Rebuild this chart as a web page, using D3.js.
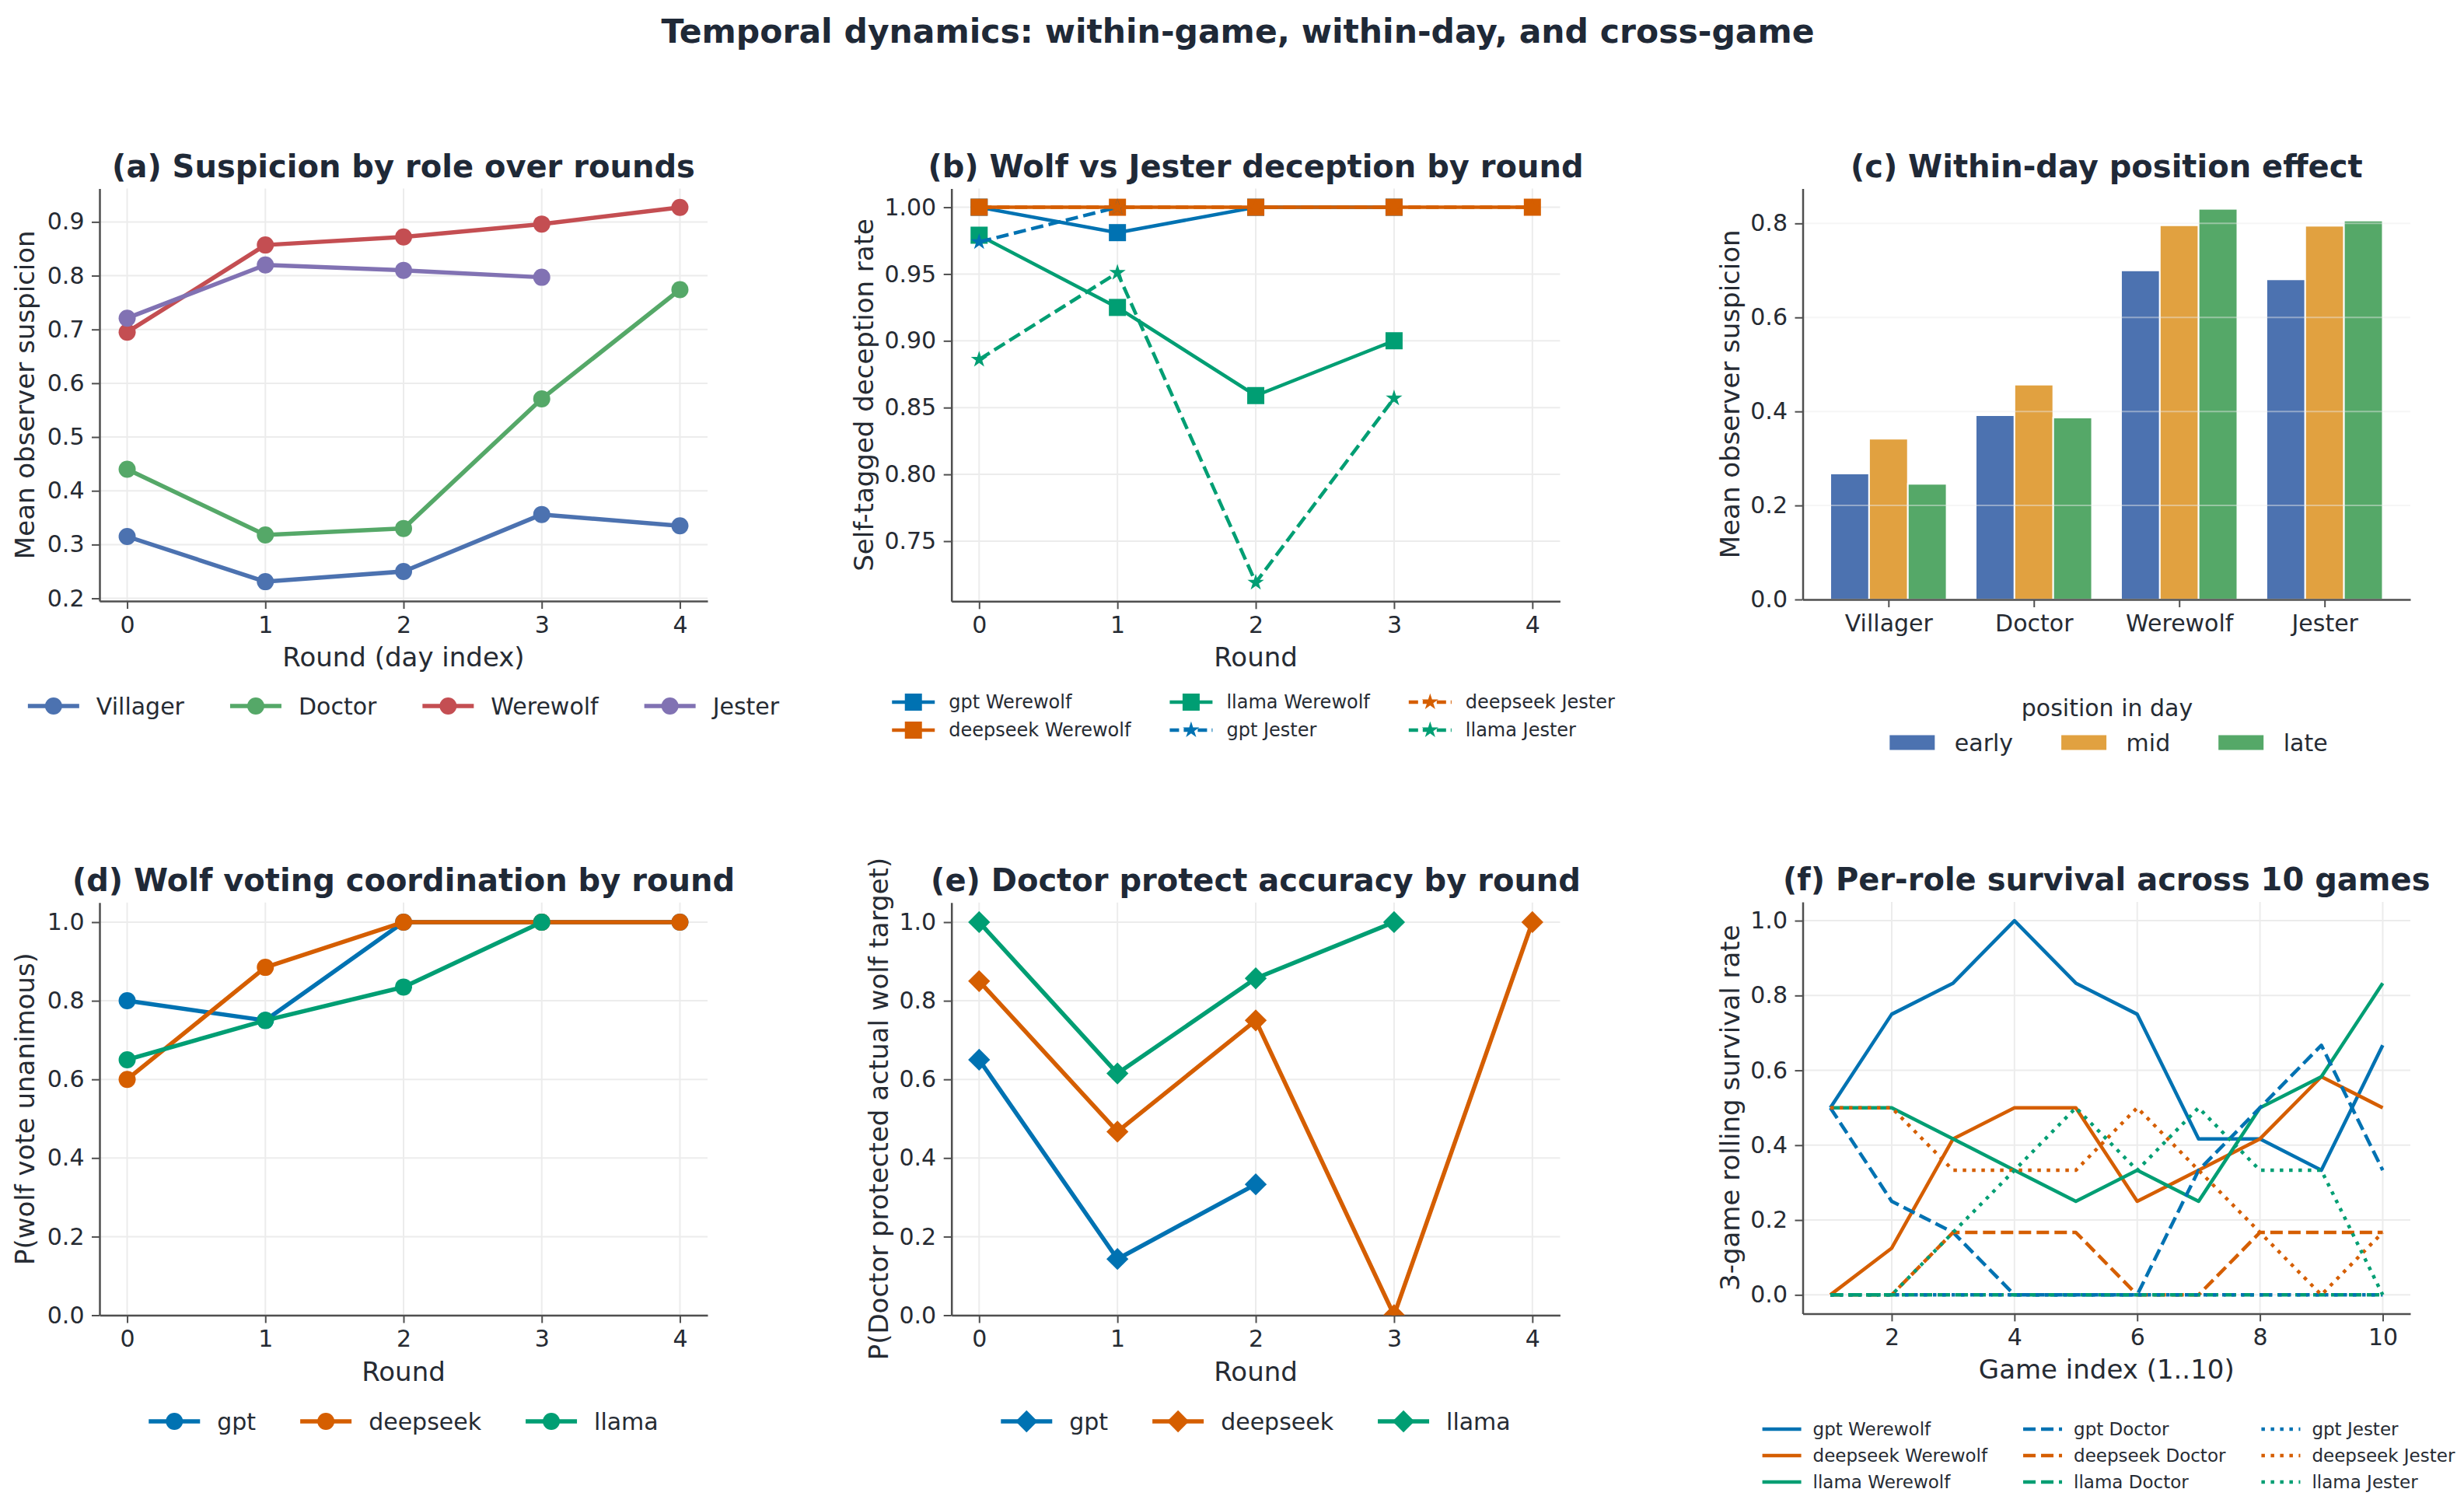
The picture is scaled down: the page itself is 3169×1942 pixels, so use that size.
<!DOCTYPE html>
<html>
<head>
<meta charset="utf-8">
<script src="https://cdn.jsdelivr.net/npm/d3@7"></script>
<style>
  body { margin: 0; background: #fff; }
  svg { display: block; }
</style>
</head>
<body>
<script>
/* Data */
const rounds = [0, 1, 2, 3, 4];
const roles = ["Villager", "Doctor", "Werewolf", "Jester"];
const models = ["gpt", "deepseek", "llama"];

// (a) mean observer suspicion by role and round
const suspVillager = [0.315, 0.231, 0.250, 0.356, 0.335];
const suspDoctor   = [0.440, 0.318, 0.330, 0.571, 0.774];
const suspWerewolf = [0.695, 0.857, 0.872, 0.896, 0.927];
const suspJester   = [0.721, 0.820, 0.810, 0.797, null];

// (b) self-tagged deception rate
const decGptWerewolf      = [1.000, 0.981, 1.000, 1.000, null];
const decDeepseekWerewolf = [1.000, 1.000, 1.000, 1.000, 1.000];
const decLlamaWerewolf    = [0.979, 0.925, 0.859, 0.900, null];
const decGptJester        = [0.974, 1.000, null, null, null];
const decDeepseekJester   = [1.000, 1.000, 1.000, 1.000, 1.000];
const decLlamaJester      = [0.886, 0.951, 0.719, 0.857, null];

// (c) within-day position effect
const positions = ["early", "mid", "late"];
const posEarly = [0.268, 0.392, 0.700, 0.681];
const posMid   = [0.342, 0.457, 0.796, 0.795];
const posLate  = [0.246, 0.387, 0.831, 0.806];

// (d) P(wolf vote unanimous)
const unanGpt      = [0.80, 0.75, 1.00, 1.00, 1.00];
const unanDeepseek = [0.60, 0.885, 1.00, 1.00, 1.00];
const unanLlama    = [0.65, 0.75, 0.835, 1.00, null];

// (e) P(doctor protected actual wolf target)
const protGpt      = [0.65, 0.143, 0.333, null, null];
const protDeepseek = [0.85, 0.467, 0.75, 0.00, 1.00];
const protLlama    = [1.00, 0.615, 0.857, 1.00, null];

// (f) 3-game rolling survival rate, games 1..10
const games = [1, 2, 3, 4, 5, 6, 7, 8, 9, 10];
const survGptWerewolf      = [0.5, 0.75, 0.833, 1.0, 0.833, 0.75, 0.417, 0.417, 0.333, 0.667];
const survDeepseekWerewolf = [0.0, 0.125, 0.417, 0.5, 0.5, 0.25, 0.333, 0.417, 0.583, 0.5];
const survLlamaWerewolf    = [0.5, 0.5, 0.417, 0.333, 0.25, 0.333, 0.25, 0.5, 0.583, 0.833];
const survGptDoctor        = [0.5, 0.25, 0.167, 0.0, 0.0, 0.0, 0.333, 0.5, 0.667, 0.333];
const survDeepseekDoctor   = [0.0, 0.0, 0.167, 0.167, 0.167, 0.0, 0.0, 0.167, 0.167, 0.167];
const survLlamaDoctor      = [0.0, 0.0, 0.0, 0.0, 0.0, 0.0, 0.0, 0.0, 0.0, 0.0];
const survGptJester        = [0.0, 0.0, 0.0, 0.0, 0.0, 0.0, 0.0, 0.0, 0.0, 0.0];
const survDeepseekJester   = [0.5, 0.5, 0.333, 0.333, 0.333, 0.5, 0.333, 0.167, 0.0, 0.167];
const survLlamaJester      = [0.0, 0.0, 0.167, 0.333, 0.5, 0.333, 0.5, 0.333, 0.333, 0.0];

/* Styles */
const W = 3169, H = 1942;
const FONT = "'DejaVu Sans', sans-serif";
const INK = "#1f2937";
const TEXT = "#262b33";
const SPINE = "#4f4f4f";
const GRID = "#ececec";
const roleColor = { Villager: "#4C72B0", Doctor: "#55A868", Werewolf: "#C44E52", Jester: "#8172B3" };
const modelColor = { gpt: "#0072B2", deepseek: "#D55E00", llama: "#009E73" };
const posColor = { early: "#4C72B0", mid: "#E1A140", late: "#55A868" };

const svg = d3.select("body").append("svg")
  .attr("width", W)
  .attr("height", H)
  .style("font-family", FONT);

svg.append("rect").attr("width", W).attr("height", H).attr("fill", "#fff");

svg.append("text")
  .attr("x", 1592)
  .attr("y", 40)
  .attr("text-anchor", "middle")
  .attr("dominant-baseline", "central")
  .attr("font-weight", "bold")
  .attr("font-size", "42.5px")
  .attr("fill", INK)
  .text("Temporal dynamics: within-game, within-day, and cross-game");

/* Markers */
function markerPath(type) {
  if (type === "circle") return d3.symbol(d3.symbolCircle, Math.PI * 11 * 11)();
  if (type === "square") return d3.symbol(d3.symbolSquare, 22 * 22)();
  if (type === "star") return d3.symbol(d3.symbolStar, 140)();
  if (type === "diamond") return d3.symbol(d3.symbolSquare, 20 * 20)();
  return null;
}
function drawMarker(g, type, cx, cy, color) {
  const rot = type === "diamond" ? " rotate(45)" : "";
  g.append("path")
    .attr("d", markerPath(type))
    .attr("transform", `translate(${cx},${cy})${rot}`)
    .attr("fill", color);
}

let clipId = 0;

/* Shared axes frame */
function frame(p, x, y, opts) {
  const g = svg.append("g");

  // grid
  if (opts.xGrid) {
    g.append("g").selectAll("line").data(p.xTicks).join("line")
      .attr("x1", d => x(d)).attr("x2", d => x(d))
      .attr("y1", p.top).attr("y2", p.bottom)
      .attr("stroke", GRID).attr("stroke-width", 2);
  }
  const yGrid = g.append("g");

  const xAxis = g.append("g")
    .attr("transform", `translate(0,${p.bottom})`)
    .call(opts.xAxis.tickSize(10).tickSizeOuter(0).tickPadding(9.5));
  const yAxis = g.append("g")
    .attr("transform", `translate(${p.left},0)`)
    .call(d3.axisLeft(y).tickValues(p.yTicks).tickFormat(d3.format(p.yFmt))
      .tickSize(10).tickSizeOuter(0).tickPadding(9.5));

  [xAxis, yAxis].forEach(a => {
    a.select(".domain").attr("stroke", SPINE).attr("stroke-width", 2.5);
    a.selectAll(".tick line").attr("stroke", SPINE).attr("stroke-width", 2);
    a.selectAll(".tick text")
      .attr("font-family", FONT)
      .attr("font-size", "30px")
      .attr("fill", TEXT);
  });

  // title
  svg.append("text")
    .attr("x", (p.left + p.right) / 2)
    .attr("y", p.top - 29)
    .attr("text-anchor", "middle")
    .attr("dominant-baseline", "central")
    .attr("font-weight", "bold")
    .attr("font-size", "40px")
    .attr("fill", INK)
    .text(p.title);

  if (p.xLabel) {
    svg.append("text")
      .attr("x", (p.left + p.right) / 2)
      .attr("y", p.bottom + 72)
      .attr("text-anchor", "middle")
      .attr("dominant-baseline", "central")
      .attr("font-size", "34px")
      .attr("fill", TEXT)
      .text(p.xLabel);
  }
  svg.append("text")
    .attr("transform", `translate(${p.left - p.yLabelOff},${(p.top + p.bottom) / 2}) rotate(-90)`)
    .attr("text-anchor", "middle")
    .attr("dominant-baseline", "central")
    .attr("font-size", "34px")
    .attr("fill", TEXT)
    .text(p.yLabel);

  return { g, yGrid };
}

function drawYGrid(layer, p, y, opacity) {
  layer.selectAll("line").data(p.yTicks).join("line")
    .attr("x1", p.left).attr("x2", p.right)
    .attr("y1", d => y(d)).attr("y2", d => y(d))
    .attr("stroke", GRID)
    .attr("stroke-opacity", opacity)
    .attr("stroke-width", 2);
}

/* Line panel */
function linePanel(p) {
  const x = d3.scaleLinear().domain(p.xDomain).range([p.left, p.right]);
  const y = d3.scaleLinear().domain(p.yDomain).range([p.bottom, p.top]);
  const f = frame(p, x, y, {
    xGrid: true,
    xAxis: d3.axisBottom(x).tickValues(p.xTicks).tickFormat(d3.format("d"))
  });
  drawYGrid(f.yGrid, p, y, 1);

  const id = "clip" + (clipId++);
  svg.append("clipPath").attr("id", id).append("rect")
    .attr("x", p.left).attr("y", p.top)
    .attr("width", p.right - p.left).attr("height", p.bottom - p.top);
  const plot = svg.append("g").attr("clip-path", `url(#${id})`);

  p.series.forEach(s => {
    const pts = s.xs.map((v, i) => [v, s.ys[i]]).filter(d => d[1] != null);
    const line = d3.line().x(d => x(d[0])).y(d => y(d[1]));
    plot.append("path")
      .datum(pts)
      .attr("d", line)
      .attr("fill", "none")
      .attr("stroke", s.color)
      .attr("stroke-width", p.lw)
      .attr("stroke-dasharray", s.dash || null)
      .attr("stroke-linejoin", "round");
    if (s.marker) pts.forEach(d => drawMarker(plot, s.marker, x(d[0]), y(d[1]), s.color));
  });
}

/* Legend in a grid, filled column by column, centred on cx */
function legend(items, o) {
  const g = svg.append("g");
  const cols = [];
  items.forEach((it, i) => {
    const c = Math.floor(i / o.nrow);
    (cols[c] = cols[c] || []).push(it);
  });
  // measure texts
  const colW = cols.map(col => {
    let m = 0;
    col.forEach(it => {
      const t = g.append("text").attr("font-size", o.font + "px").text(it.label);
      it.w = t.node().getComputedTextLength();
      t.remove();
      m = Math.max(m, it.w);
    });
    return o.handle + o.gap + m;
  });
  const total = d3.sum(colW) + o.colGap * (cols.length - 1);
  let x0 = o.cx - total / 2;
  cols.forEach((col, c) => {
    col.forEach((it, r) => {
      const yy = o.y + r * (o.rowH || 0);
      const hg = g.append("g");
      it.draw(hg, x0, yy, o.handle);
      g.append("text")
        .attr("x", x0 + o.handle + o.gap)
        .attr("y", yy)
        .attr("dominant-baseline", "central")
        .attr("font-size", o.font + "px")
        .attr("fill", TEXT)
        .text(it.label);
    });
    x0 += colW[c] + o.colGap;
  });
}

function lineHandle(color, lw, dash, marker) {
  return (g, x0, y0, len) => {
    g.append("line")
      .attr("x1", x0).attr("x2", x0 + len)
      .attr("y1", y0).attr("y2", y0)
      .attr("stroke", color)
      .attr("stroke-width", lw)
      .attr("stroke-dasharray", dash || null);
    if (marker) drawMarker(g, marker, x0 + len / 2, y0, color);
  };
}

/* (a) */
const seriesA = [suspVillager, suspDoctor, suspWerewolf, suspJester].map((ys, i) => ({
  name: roles[i], xs: rounds, ys, color: roleColor[roles[i]], marker: "circle"
}));
linePanel({
  left: 128, right: 910, top: 242.5, bottom: 773,
  xDomain: [-0.2, 4.2], yDomain: [0.195, 0.962],
  xTicks: rounds, yTicks: d3.range(0.2, 0.95, 0.1), yFmt: ".1f",
  title: "(a) Suspicion by role over rounds",
  xLabel: "Round (day index)", yLabel: "Mean observer suspicion", yLabelOff: 96,
  lw: 5.5, series: seriesA
});
legend(seriesA.map(s => ({ label: s.name, draw: lineHandle(s.color, 5.5, null, "circle") })), {
  nrow: 1, cx: 519, y: 908, font: 30, handle: 66, gap: 22, colGap: 59
});

/* (b) */
const seriesB = [
  { name: "gpt Werewolf", ys: decGptWerewolf, color: modelColor.gpt, marker: "square" },
  { name: "deepseek Werewolf", ys: decDeepseekWerewolf, color: modelColor.deepseek, marker: "square" },
  { name: "llama Werewolf", ys: decLlamaWerewolf, color: modelColor.llama, marker: "square" },
  { name: "gpt Jester", ys: decGptJester, color: modelColor.gpt, marker: "star", dash: "16,7" },
  { name: "deepseek Jester", ys: decDeepseekJester, color: modelColor.deepseek, marker: "star", dash: "16,7" },
  { name: "llama Jester", ys: decLlamaJester, color: modelColor.llama, marker: "star", dash: "16,7" }
].map(s => ({ ...s, xs: rounds }));
linePanel({
  left: 1223.7, right: 2006.4, top: 242.5, bottom: 773.3,
  xDomain: [-0.2, 4.2], yDomain: [0.705, 1.014],
  xTicks: rounds, yTicks: d3.range(0.75, 1.001, 0.05), yFmt: ".2f",
  title: "(b) Wolf vs Jester deception by round",
  xLabel: "Round", yLabel: "Self-tagged deception rate", yLabelOff: 112.7,
  lw: 4.5, series: seriesB
});
legend(seriesB.map(s => ({ label: s.name, draw: lineHandle(s.color, 4.5, s.dash ? "12,6" : null, s.marker) })), {
  nrow: 2, cx: 1612, y: 903, rowH: 36, font: 24, handle: 55, gap: 18, colGap: 50
});

/* (c) bars */
(function () {
  const p = {
    left: 2318.5, right: 3100, top: 242.6, bottom: 771,
    yTicks: [0, 0.2, 0.4, 0.6, 0.8], yFmt: ".1f",
    title: "(c) Within-day position effect",
    yLabel: "Mean observer suspicion", yLabelOff: 93.5
  };
  const x = d3.scaleLinear().domain([-0.59, 3.59]).range([p.left, p.right]);
  const y = d3.scaleLinear().domain([0, 0.874]).range([p.bottom, p.top]);
  const bw = 0.8 / positions.length;
  const rows = [posEarly, posMid, posLate];

  const bars = svg.append("g");
  rows.forEach((vals, j) => {
    bars.selectAll(null).data(vals).join("rect")
      .attr("x", (d, i) => x(i - 0.4 + j * bw))
      .attr("width", x(bw) - x(0))
      .attr("y", d => y(d))
      .attr("height", d => y(0) - y(d))
      .attr("fill", posColor[positions[j]])
      .attr("stroke", "#fff")
      .attr("stroke-width", 2);
  });

  const xAxis = d3.axisBottom(x).tickValues(d3.range(roles.length)).tickFormat(i => roles[i]);
  const f = frame(p, x, y, { xGrid: false, xAxis });
  f.g.raise();
  drawYGrid(f.yGrid, p, y, 0.45);

  legend(positions.map(k => ({
    label: k,
    draw: (g, x0, y0, len) => g.append("rect")
      .attr("x", x0).attr("y", y0 - 9.5).attr("width", len).attr("height", 19)
      .attr("fill", posColor[k])
  })), { nrow: 1, cx: 2712, y: 955, font: 30, handle: 58, gap: 25.5, colGap: 62 });

  svg.append("text")
    .attr("x", 2710).attr("y", 910)
    .attr("text-anchor", "middle")
    .attr("dominant-baseline", "central")
    .attr("font-size", "30px")
    .attr("fill", TEXT)
    .text("position in day");
})();

/* (d) */
const seriesD = [unanGpt, unanDeepseek, unanLlama].map((ys, i) => ({
  name: models[i], xs: rounds, ys, color: modelColor[models[i]], marker: "circle"
}));
linePanel({
  left: 128, right: 910, top: 1160.7, bottom: 1691.5,
  xDomain: [-0.2, 4.2], yDomain: [0, 1.05],
  xTicks: rounds, yTicks: [0, 0.2, 0.4, 0.6, 0.8, 1.0], yFmt: ".1f",
  title: "(d) Wolf voting coordination by round",
  xLabel: "Round", yLabel: "P(wolf vote unanimous)", yLabelOff: 96,
  lw: 5.5, series: seriesD
});
legend(seriesD.map(s => ({ label: s.name, draw: lineHandle(s.color, 5.5, null, "circle") })), {
  nrow: 1, cx: 519, y: 1828, font: 30, handle: 66, gap: 22, colGap: 57
});

/* (e) */
const seriesE = [protGpt, protDeepseek, protLlama].map((ys, i) => ({
  name: models[i], xs: rounds, ys, color: modelColor[models[i]], marker: "diamond"
}));
linePanel({
  left: 1223.7, right: 2006.4, top: 1160.7, bottom: 1691.5,
  xDomain: [-0.2, 4.2], yDomain: [0, 1.05],
  xTicks: rounds, yTicks: [0, 0.2, 0.4, 0.6, 0.8, 1.0], yFmt: ".1f",
  title: "(e) Doctor protect accuracy by round",
  xLabel: "Round", yLabel: "P(Doctor protected actual wolf target)", yLabelOff: 93.7,
  lw: 5.5, series: seriesE
});
legend(seriesE.map(s => ({ label: s.name, draw: lineHandle(s.color, 5.5, null, "diamond") })), {
  nrow: 1, cx: 1615, y: 1828, font: 30, handle: 66, gap: 22, colGap: 57
});

/* (f) */
const survRoles = ["Werewolf", "Doctor", "Jester"];
const survDash = { Werewolf: null, Doctor: "16,7", Jester: "4.5,7.5" };
const survData = [
  survGptWerewolf, survDeepseekWerewolf, survLlamaWerewolf,
  survGptDoctor, survDeepseekDoctor, survLlamaDoctor,
  survGptJester, survDeepseekJester, survLlamaJester
];
const seriesF = survData.map((ys, i) => {
  const role = survRoles[Math.floor(i / 3)], model = models[i % 3];
  return { name: `${model} ${role}`, xs: games, ys, color: modelColor[model], dash: survDash[role] };
});
linePanel({
  left: 2318.5, right: 3100, top: 1160, bottom: 1689.4,
  xDomain: [0.55, 10.45], yDomain: [-0.05, 1.05],
  xTicks: [2, 4, 6, 8, 10], yTicks: [0, 0.2, 0.4, 0.6, 0.8, 1.0], yFmt: ".1f",
  title: "(f) Per-role survival across 10 games",
  xLabel: "Game index (1..10)", yLabel: "3-game rolling survival rate", yLabelOff: 93.5,
  lw: 4.5, series: seriesF
});
legend(seriesF.map(s => ({ label: s.name, draw: lineHandle(s.color, 4.5, s.dash, null) })), {
  nrow: 3, cx: 2712, y: 1838, rowH: 34, font: 23, handle: 50, gap: 15, colGap: 46
});
</script>
</body>
</html>
